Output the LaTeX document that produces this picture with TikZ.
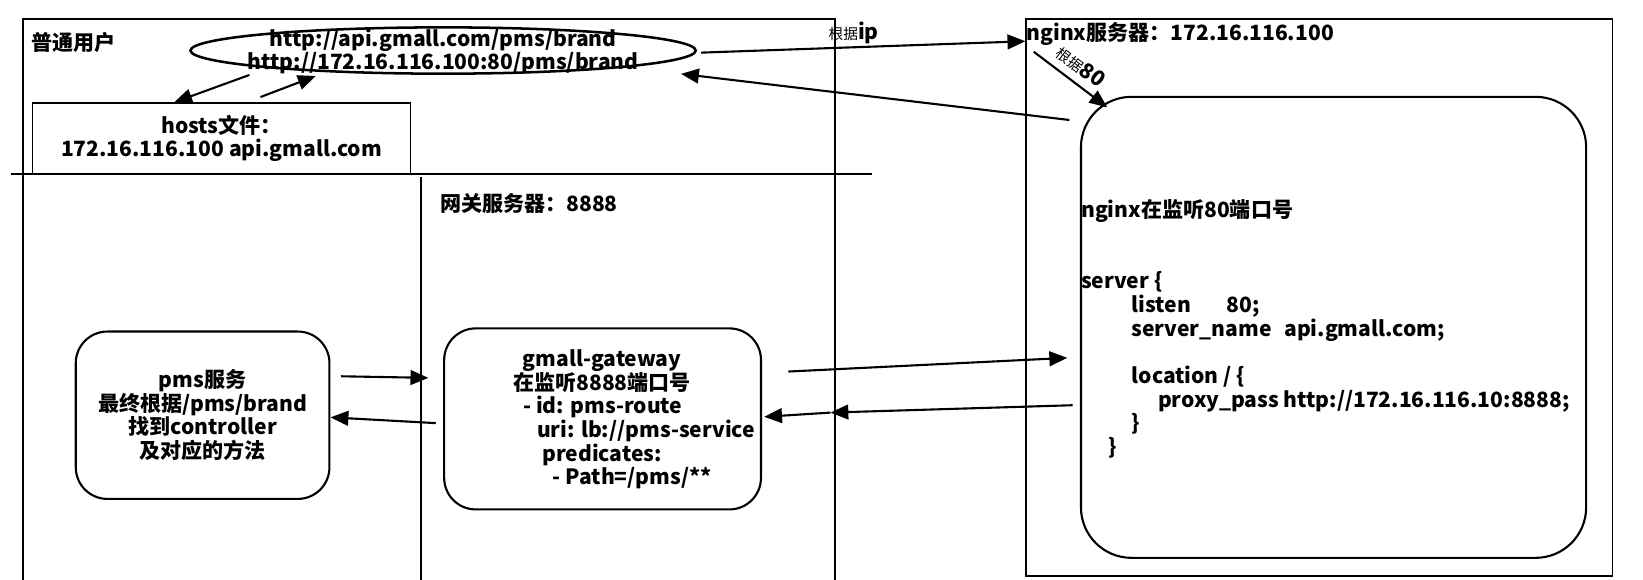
\documentclass[tikz,border=0pt]{standalone}
\usepackage{fontspec}
\setmainfont{Noto Sans CJK SC}
\usepackage{tikz}
\usetikzlibrary{arrows.meta,shapes.geometric}
\newcommand\lightcjk{\fontsize{14}{14}\selectfont\mdseries}

\begin{document}
\begin{tikzpicture}[x=1pt,y=-1pt,
  font=\fontsize{20}{22.5}\selectfont\bfseries,
  every node/.style={inner sep=0pt},
  frame/.style={line width=1.6pt},
  box/.style={draw,line width=2pt,rounded corners=30pt},
  arr/.style={-{Triangle[length=17pt,width=14pt]},line width=2pt}]
  \useasboundingbox (0,0) rectangle (1561,551);

  % user side and gateway side
  \draw[frame] (22,551) -- (22,18) -- (793,18) -- (793,551);
  \draw[frame] (10,165) -- (828,165);
  \draw[frame] (400,168) -- (400,551);
  \node[anchor=west] (user) at (30,40) {普通用户};
  \node[anchor=west] (gwserver) at (418,193) {网关服务器：8888};

  \node[ellipse,draw,line width=2.4pt,minimum width=480pt,minimum height=44pt] (url) at (421,48) {};
  \node[align=center] (urltext) at (421,49) {http://api.gmall.com/pms/brand\\http://172.16.116.100:80/pms/brand};

  \node[draw,frame,minimum width=359pt,minimum height=67pt,align=center] (hosts) at (210.5,131.5)
  {hosts文件：\\172.16.116.100 api.gmall.com};

  \node[box,minimum width=241pt,minimum height=159pt,align=center] (pms) at (192.5,394.5)
  {pms服务\\最终根据/pms/brand\\找到controller\\及对应的方法};

  \node[box,minimum width=301pt,minimum height=172pt] (gw) at (572.5,398) {};
  \node[align=center] (gwname) at (572,352.5) {gmall-gateway\\在监听8888端口号};
  \node[align=left,anchor=west] (gwroute) at (497,420.5)
  {- id: pms-route\\\hspace*{13pt}uri: lb://pms-service\\\hspace*{18pt}predicates:\\\hspace*{28pt}- Path=/pms/**};

  % nginx side
  \node[draw,frame,minimum width=557pt,minimum height=529pt] (nginx) at (1253.5,282.5) {};
  \node[anchor=west] (nginxname) at (975,32) {nginx服务器：172.16.116.100};
  \node[box,rounded corners=48pt,minimum width=480pt,minimum height=438pt] (ngx) at (1267,311) {};
  \node[anchor=west] (listen) at (1027,200) {nginx在监听80端口号};
  \node[align=left,anchor=west] (conf) at (1027,346.75)
  {server \{\\
   \hspace*{48pt}listen\hspace{34pt}80;\\
   \hspace*{48pt}server\_name\hspace{12pt}api.gmall.com;\\[22.5pt]
   \hspace*{48pt}location / \{\\
   \hspace*{73pt}proxy\_pass http://172.16.116.10:8888;\\
   \hspace*{48pt}\}\\
   \hspace*{26pt}\}};

  \coordinate (cross) at (789,392);

  % requests
  \draw[arr] ([xshift=-184pt]url.south) -- ([xshift=-45pt]hosts.north);
  \draw[arr] ([xshift=37pt,yshift=5pt]hosts.north) -- ([xshift=-121pt,yshift=-1pt]url.south);
  \draw[arr] ([xshift=4pt,yshift=-2pt]url.east) --
    node[above=2pt,pos=0.47] {{\lightcjk 根据}ip} ([yshift=-22pt]nginx.north west);
  \draw[arr] ([xshift=-10pt,yshift=-23pt]ngx.north west) -- ([xshift=226pt,yshift=1pt]url.south);
  \draw[arr] ([xshift=8pt,yshift=-32pt]nginx.north west) --
    node[above=7pt,sloped,pos=0.5] {{\lightcjk 根据}80} ([xshift=26pt,yshift=-11pt]ngx.north west);
  \draw[arr] ([xshift=25pt,yshift=45pt]gw.east) -- ([xshift=-12pt,yshift=-29pt]ngx.west);
  \draw[arr] ([xshift=10pt,yshift=37pt]pms.east) -- ([xshift=-14pt,yshift=39pt]gw.west);
  \draw[arr] ([xshift=-7pt,yshift=-4pt]gw.west) -- ([yshift=-2pt]pms.east);
  \draw[arr] ([xshift=-7pt,yshift=-74pt]ngx.west) -- (cross);
  \draw[arr] (cross) -- ([xshift=2pt,yshift=2pt]gw.east);
\end{tikzpicture}
\end{document}
